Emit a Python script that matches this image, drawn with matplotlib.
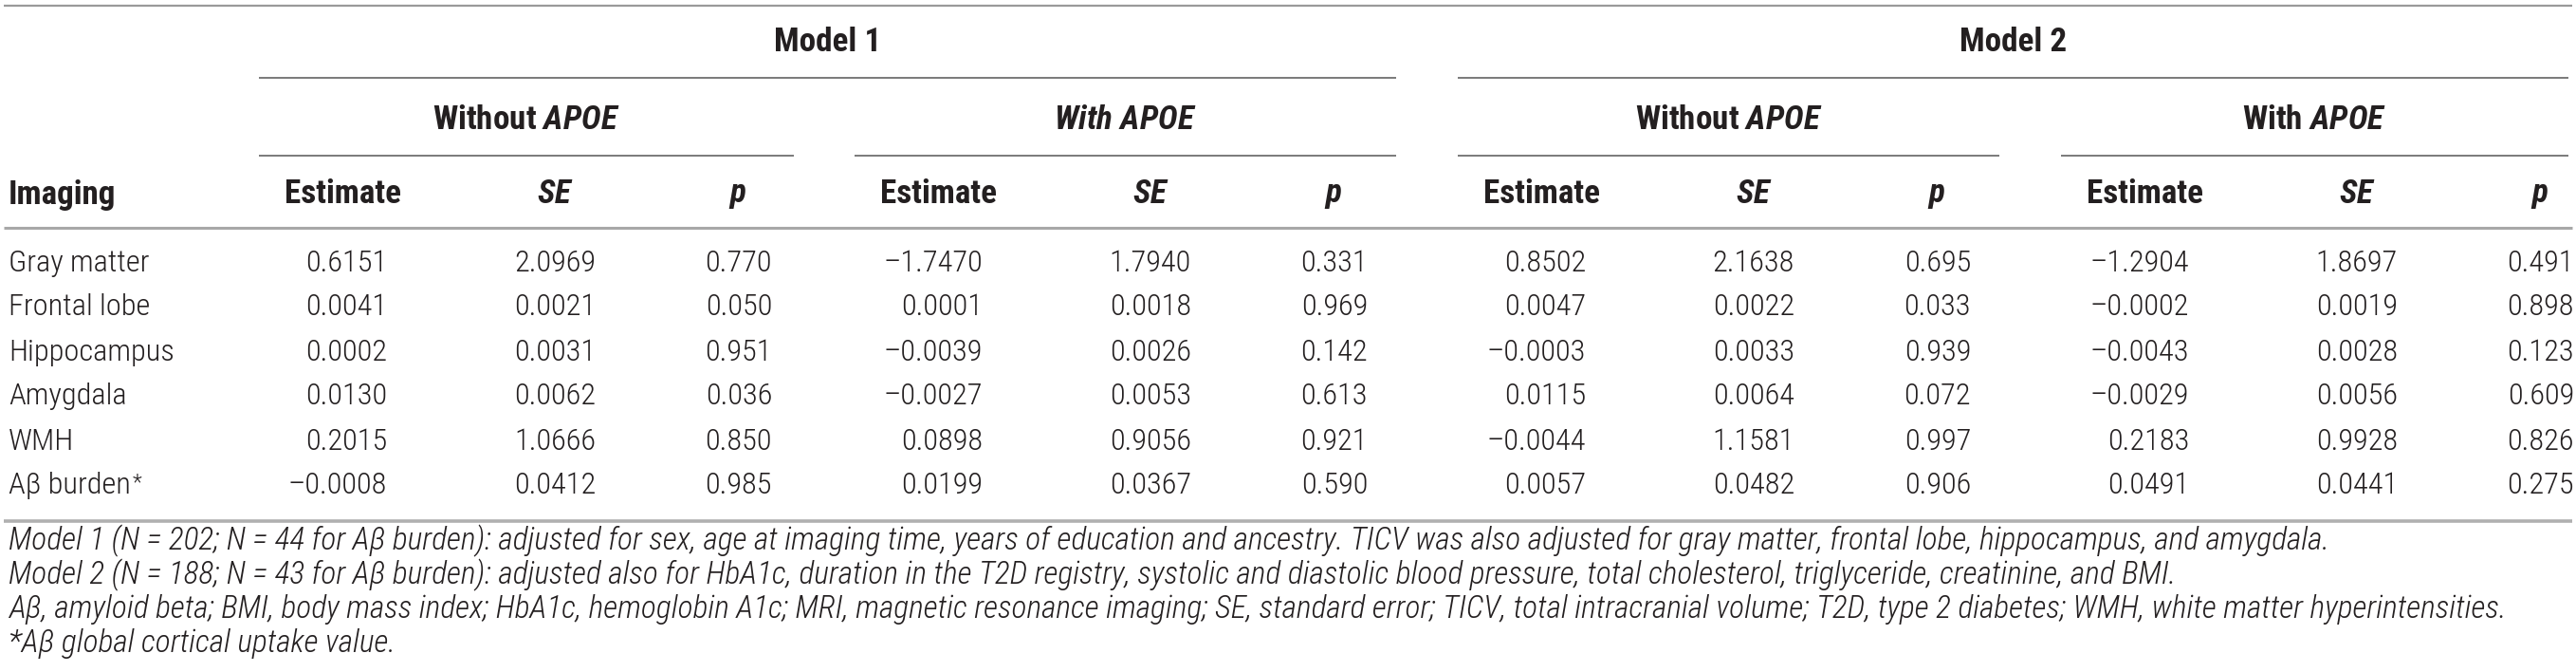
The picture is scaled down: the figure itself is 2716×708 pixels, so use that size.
import matplotlib
matplotlib.use("Agg")
import matplotlib.pyplot as plt

W, H = 2716, 708

# ---- table data ----
imaging = ["Gray matter", "Frontal lobe", "Hippocampus", "Amygdala", "WMH", "Aβ burden"]

m1_wo_est = [0.6151, 0.0041, 0.0002, 0.0130, 0.2015, -0.0008]
m1_wo_se = [2.0969, 0.0021, 0.0031, 0.0062, 1.0666, 0.0412]
m1_wo_p = [0.770, 0.050, 0.951, 0.036, 0.850, 0.985]

m1_w_est = [-1.7470, 0.0001, -0.0039, -0.0027, 0.0898, 0.0199]
m1_w_se = [1.7940, 0.0018, 0.0026, 0.0053, 0.9056, 0.0367]
m1_w_p = [0.331, 0.969, 0.142, 0.613, 0.921, 0.590]

m2_wo_est = [0.8502, 0.0047, -0.0003, 0.0115, -0.0044, 0.0057]
m2_wo_se = [2.1638, 0.0022, 0.0033, 0.0064, 1.1581, 0.0482]
m2_wo_p = [0.695, 0.033, 0.939, 0.072, 0.997, 0.906]

m2_w_est = [-1.2904, -0.0002, -0.0043, -0.0029, 0.2183, 0.0491]
m2_w_se = [1.8697, 0.0019, 0.0028, 0.0056, 0.9928, 0.0441]
m2_w_p = [0.491, 0.898, 0.123, 0.609, 0.826, 0.275]

models = ["Model 1", "Model 2"]
groups = ["Without $APOE$", "$With\\ APOE$", "Without $APOE$", "With $APOE$"]
sub_headers = ["Estimate", "$SE$", "$p$"]
first_header = "Imaging"

footnotes = [
    "Model 1 (N = 202; N = 44 for Aβ burden): adjusted for sex, age at imaging time, years of education and ancestry. "
    "TICV was also adjusted for gray matter, frontal lobe, hippocampus, and amygdala.",
    "Model 2 (N = 188; N = 43 for Aβ burden): adjusted also for HbA1c, duration in the T2D registry, systolic and "
    "diastolic blood pressure, total cholesterol, triglyceride, creatinine, and BMI.",
    "Aβ, amyloid beta; BMI, body mass index; HbA1c, hemoglobin A1c; MRI, magnetic resonance imaging; SE, standard error; "
    "TICV, total intracranial volume; T2D, type 2 diabetes; WMH, white matter hyperintensities.",
    "*Aβ global cortical uptake value.",
]

columns = [
    (m1_wo_est, m1_wo_se, m1_wo_p),
    (m1_w_est, m1_w_se, m1_w_p),
    (m2_wo_est, m2_wo_se, m2_wo_p),
    (m2_w_est, m2_w_se, m2_w_p),
]

# ---- fonts ----
FAM = ["Roboto Condensed", "Liberation Sans", "DejaVu Sans"]
plt.rcParams["font.family"] = FAM
plt.rcParams["mathtext.fontset"] = "custom"
plt.rcParams["mathtext.rm"] = "Roboto Condensed:bold"
plt.rcParams["mathtext.it"] = "Roboto Condensed:bold:italic"
plt.rcParams["mathtext.bf"] = "Roboto Condensed:bold"

TXT = "#231f20"

# ---- layout (pixels) ----
group_x0 = [273, 901, 1537, 2173]
group_x1 = [837, 1472, 2108, 2708]
head_off = [89, 312, 505]      # header centres from group start
val_right = [135, 355, 541]    # value right edges from group start
row_y = [277, 324, 371, 418, 465, 512]
foot_y = [570, 606, 642, 678]


def fmt(v, nd):
    return f"{v:.{nd}f}".replace("-", "\u2013")


fig = plt.figure(figsize=(W / 100, H / 100), dpi=100)
ax = fig.add_axes([0, 0, 1, 1])
ax.set_xlim(0, W)
ax.set_ylim(H, 0)
ax.axis("off")
renderer = fig.canvas.get_renderer()


def fit_size(s, target, **kw):
    # font size that makes string s about target pixels wide
    t = ax.text(0, 0, s, fontsize=10, **kw)
    w = t.get_window_extent(renderer).width
    t.remove()
    return 10 * target / w


FS_BODY = (fit_size("Hippocampus", 176, fontweight="light")
           + fit_size("0.6151", 86, fontweight="light")) / 2
FS_HEAD = fit_size("Estimate", 123, fontweight="bold")
FS_FOOT = min(fit_size(footnotes[0], 2447, style="italic", fontweight="light"),
              fit_size(footnotes[2], 2695, style="italic", fontweight="light"))


def hline(x0, x1, y, lw=1.4, color="#7a7a7a"):
    ax.plot([x0, x1], [y, y], color=color, lw=lw, solid_capstyle="butt")


# rules
hline(4, 2712, 6, lw=1.6, color="#9a9a9a")
hline(group_x0[0], group_x1[1], 82)
hline(group_x0[2], group_x1[3], 82)
for x0, x1 in zip(group_x0, group_x1):
    hline(x0, x1, 164)
hline(4, 2712, 240, lw=2.2, color="#a8a8a8")
hline(4, 2712, 549, lw=2.6, color="#b0b0b0")

# model headers
for i, m in enumerate(models):
    cx = (group_x0[2 * i] + group_x1[2 * i + 1]) / 2
    ax.text(cx, 45, m, ha="center", va="center", fontsize=FS_HEAD, fontweight="bold", color=TXT)

# group headers
for g, x0, x1 in zip(groups, group_x0, group_x1):
    ax.text((x0 + x1) / 2, 127, g, ha="center", va="center", fontsize=FS_HEAD, fontweight="bold", color=TXT)

# column headers
ax.text(9, 205, first_header, ha="left", va="center", fontsize=FS_HEAD, fontweight="bold", color=TXT)
for x0 in group_x0:
    for h, off in zip(sub_headers, head_off):
        ax.text(x0 + off, 205, h, ha="center", va="center", fontsize=FS_HEAD, fontweight="bold", color=TXT)

# body
for r, name in enumerate(imaging):
    t = ax.text(9, row_y[r], name, ha="left", va="center", fontsize=FS_BODY, fontweight="light", color=TXT)
    if name.startswith("Aβ"):
        ax.annotate("*", xy=(1.0, 1.0), xycoords=t, xytext=(1, 0), textcoords="offset points",
                    ha="left", va="top", fontsize=FS_BODY * 0.7, fontweight="light", color=TXT)
    for x0, (est, se, p) in zip(group_x0, columns):
        for vals, nd, off in zip((est, se, p), (4, 4, 3), val_right):
            ax.text(x0 + off, row_y[r], fmt(vals[r], nd), ha="right", va="center",
                    fontsize=FS_BODY, fontweight="light", color=TXT)

# footnotes
for y, note in zip(foot_y, footnotes):
    ax.text(9, y, note, ha="left", va="center", fontsize=FS_FOOT, style="italic",
            fontweight="light", color=TXT)

fig.savefig("out.png", dpi=100, facecolor="white")
